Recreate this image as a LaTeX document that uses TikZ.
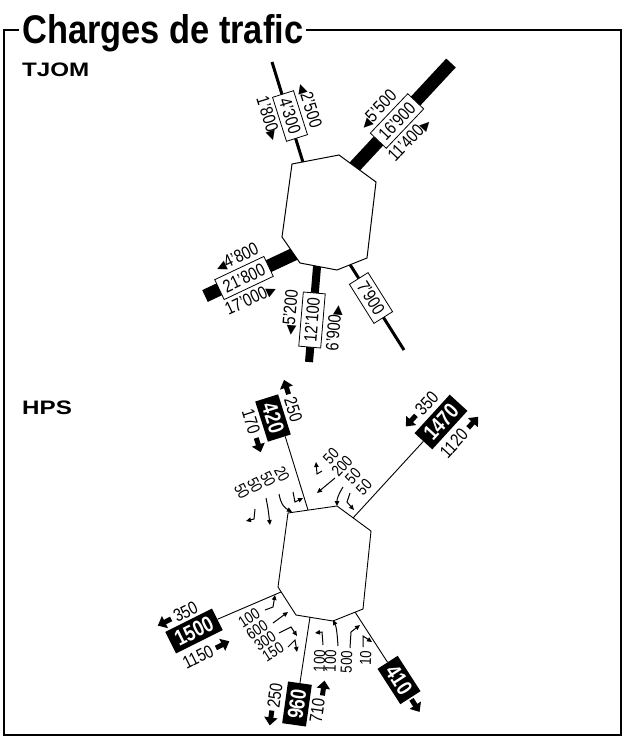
\documentclass[tikz,border=0pt]{standalone}
\usepackage{fontspec}
\setmainfont{Liberation Sans}
\newfontfamily\titlefont[FakeStretch=0.86]{Liberation Sans}
\newfontfamily\widefont[FakeStretch=1.24]{Liberation Sans}
\newfontfamily\numfont[FakeStretch=0.82]{Liberation Sans}
\newfontfamily\symfont{DejaVu Sans}
\usetikzlibrary{arrows.meta, calc}

\newcommand{\cntfont}{\numfont\fontsize{18}{18}\selectfont}
\newcommand{\boxfont}{\numfont\bfseries\fontsize{22}{22}\selectfont}
\newcommand{\lanefont}{\numfont\fontsize{16}{16}\selectfont}
\newcommand{\trileft}{{\symfont\fontsize{12.5}{12.5}\selectfont ◀}}
\newcommand{\triright}{{\symfont\fontsize{12.5}{12.5}\selectfont ▶}}

\begin{document}
\begin{tikzpicture}[
    x=1pt, y=1pt,
    frame/.style={line width=2.4pt},
    thinroad/.style={line width=3pt},
    midroad/.style={line width=8pt},
    bigroad/.style={line width=13pt},
    hpsroad/.style={line width=0.9pt},
    crossing/.style={draw, fill=white, line width=1pt},
    cntbox/.style={draw, fill=white, line width=0.8pt, inner xsep=5pt, inner ysep=0pt, minimum height=22pt, font=\cntfont},
    hpsbox/.style={fill=black, text=white, inner xsep=6pt, inner ysep=0pt, minimum height=24pt, font=\boxfont},
    cnt/.style={inner sep=0pt, font=\cntfont},
    lanecnt/.style={inner sep=0pt, font=\lanefont},
    fat/.style={line width=5pt, -{Triangle[length=8pt, width=13pt]}},
    lane/.style={line width=1pt, -{Triangle[length=5pt, width=4.5pt]}}
]
    \useasboundingbox (0,0) rectangle (628,-742);

    % Frame and title
    \draw[frame] (4,-30) rectangle (621,-735);
    \node[fill=white, inner xsep=3pt, anchor=base west, font=\titlefont\bfseries\fontsize{40}{40}\selectfont] (title) at (19,-43) {Charges de trafic};
    \node[inner sep=0pt, anchor=base west, font=\widefont\bfseries\fontsize{19.5}{19.5}\selectfont] (tjom) at (22,-76) {TJOM};
    \node[inner sep=0pt, anchor=base west, font=\widefont\bfseries\fontsize{19.5}{19.5}\selectfont] (hps) at (22,-414) {HPS};

    % TJOM: roads
    \coordinate (tNout) at (272,-62);
    \coordinate (tNin) at (306,-172);
    \coordinate (tNEout) at (451,-63);
    \coordinate (tNEin) at (345,-177);
    \coordinate (tWout) at (205,-296);
    \coordinate (tWin) at (305,-249);
    \coordinate (tSout) at (309,-362);
    \coordinate (tSin) at (318,-255);
    \coordinate (tSEout) at (404,-350);
    \coordinate (tSEin) at (344,-255);
    \draw[thinroad] (tNout) -- (tNin);
    \draw[bigroad] (tNEout) -- (tNEin);
    \draw[bigroad] (tWout) -- (tWin);
    \draw[midroad] (tSout) -- (tSin);
    \draw[thinroad] (tSEout) -- (tSEin);

    % TJOM: crossing
    \draw[crossing] (292,-164) -- (339,-155) -- (376,-182) -- (367,-258)
        -- (337,-270) -- (300,-263) -- (282,-237) -- cycle;

    % TJOM: counts
    \begin{scope}[shift={(290,-116)}, rotate=-72.4, transform shape]
        \node[cntbox] (tNbox) at (0,0) {4’300};
        \node[cnt] (tNout1) at (-4,21.5) {\trileft 2’500};
        \node[cnt] (tNin1) at (-4,-21.5) {1’800\triright};
    \end{scope}
    \begin{scope}[shift={(397,-121)}, rotate=46.4, transform shape]
        \node[cntbox] (tNEbox) at (0,0) {16’900};
        \node[cnt] (tNEin1) at (-5,21.5) {\trileft 5’500};
        \node[cnt] (tNEout1) at (-5,-22) {11’400\triright};
    \end{scope}
    \begin{scope}[shift={(244,-278)}, rotate=25.3, transform shape]
        \node[cntbox] (tWbox) at (0,0) {21’800};
        \node[cnt] (tWout1) at (2,21) {\trileft 4’800};
        \node[cnt] (tWin1) at (-3,-22) {17’000\triright};
    \end{scope}
    \begin{scope}[shift={(312,-320)}, rotate=85.2, transform shape]
        \node[cntbox] (tSbox) at (0,0) {12’100};
        \node[cnt] (tSout1) at (6,22) {\trileft 5’200};
        \node[cnt] (tSin1) at (-6,-23) {6’900\triright};
    \end{scope}
    \begin{scope}[shift={(371,-298)}, rotate=-57.9, transform shape]
        \node[cntbox] (tSEbox) at (0,0) {7’900};
    \end{scope}

    % HPS: crossing
    \draw[crossing, line width=0.9pt] (288,-513) -- (337,-506) -- (371,-531) -- (363,-609)
        -- (333,-621) -- (296,-615) -- (278,-587) -- cycle;

    % HPS: counts
    \begin{scope}[shift={(273,-418)}, rotate=-72.5, transform shape]
        \node[hpsbox] (hNbox) at (0,0) {420};
        \node[cnt] (hNout) at (-2,22) {250};
        \draw[fat] (-18,22) -- (-33,22);
        \node[cnt] (hNin) at (-3,-22) {170};
        \draw[fat] (14,-22) -- (29,-22);
    \end{scope}
    \begin{scope}[shift={(441,-422)}, rotate=47.6, transform shape]
        \node[hpsbox] (hNEbox) at (0,0) {1470};
        \node[cnt] (hNEin) at (4,23) {350};
        \draw[fat] (-12,23) -- (-27,23);
        \node[cnt] (hNEout) at (-7,-24) {1120};
        \draw[fat] (14,-24) -- (29,-24);
    \end{scope}
    \begin{scope}[shift={(194,-631)}, rotate=26.6, transform shape]
        \node[hpsbox] (hWbox) at (0,0) {1500};
        \node[cnt] (hWout) at (1,21) {350};
        \draw[fat] (-15,21) -- (-30,21);
        \node[cnt] (hWin) at (-8,-25) {1150};
        \draw[fat] (12,-25) -- (27,-25);
    \end{scope}
    \begin{scope}[shift={(297,-704)}, rotate=82, transform shape]
        \node[hpsbox] (hSbox) at (0,0) {960};
        \node[cnt] (hSout) at (5,23) {250};
        \draw[fat] (-10,24) -- (-25,24);
        \node[cnt] (hSin) at (-4,-21) {710};
        \draw[fat] (12,-24) -- (27,-24);
    \end{scope}
    \begin{scope}[shift={(399,-680)}, rotate=-57.2, transform shape]
        \node[hpsbox] (hSEbox) at (0,0) {410};
        \draw[fat] (23,0) -- (38,0);
    \end{scope}

    % HPS: roads
    \coordinate (hNin) at (308,-510);
    \coordinate (hNEin) at (353,-518);
    \coordinate (hWin) at (281,-592);
    \coordinate (hSin) at (310,-617);
    \coordinate (hSEin) at (355,-612);
    \draw[hpsroad] (hNin) -- ($(hNbox.east)!0.5!(hNbox.north east)$);
    \draw[hpsroad] (hNEin) -- (hNEbox.west);
    \draw[hpsroad] (hWin) -- (hWbox.east);
    \draw[hpsroad] (hSin) -- (hSbox.east);
    \draw[hpsroad] (hSEin) -- (hSEbox.west);

    % HPS: lanes from north
    \node[lanecnt, rotate=-62] (ln1) at (242,-491) {50};
    \node[lanecnt, rotate=-62] (ln2) at (255,-485) {50};
    \node[lanecnt, rotate=-62] (ln3) at (268,-479) {50};
    \node[lanecnt, rotate=-62] (ln4) at (282,-474) {20};
    \draw[lane] (255,-509) -- (254,-519) -- (246,-521);
    \draw[lane] (266,-498) .. controls (268,-508) .. (270,-525);
    \draw[lane] (279,-494) .. controls (281,-505) and (285,-508) .. (292,-512);
    \draw[lane] (293,-492) -- (295,-502) -- (303,-498);

    % HPS: lanes from north-east
    \node[lanecnt, rotate=47.6] (lne1) at (331,-456) {50};
    \node[lanecnt, rotate=47.6] (lne2) at (342,-466) {200};
    \node[lanecnt, rotate=47.6] (lne3) at (353,-476) {50};
    \node[lanecnt, rotate=47.6] (lne4) at (364,-487) {50};
    \draw[lane] (322,-471) -- (317,-474) -- (316,-462);
    \draw[lane] (335,-478) -- (317,-493);
    \draw[lane] (343,-487) .. controls (338,-495) and (337,-499) .. (337,-506);
    \draw[lane] (350,-493) -- (347,-502) -- (354,-510);

    % HPS: lanes from west
    \node[lanecnt, rotate=33] (lw1) at (249,-618) {100};
    \node[lanecnt, rotate=33] (lw2) at (257,-630) {600};
    \node[lanecnt, rotate=33] (lw3) at (265,-641) {300};
    \node[lanecnt, rotate=33] (lw4) at (273,-652) {150};
    \draw[lane] (265,-610) -- (273,-607) -- (275,-595);
    \draw[lane] (273,-623) -- (288,-612);
    \draw[lane] (279,-633) -- (291,-627) -- (297,-636);
    \draw[lane] (288,-647) -- (295,-640) -- (297,-652);

    % HPS: lanes from south
    \node[lanecnt, rotate=88, anchor=east] (ls1) at (320,-650) {100};
    \node[lanecnt, rotate=88, anchor=east] (ls2) at (331,-650) {100};
    \node[lanecnt, rotate=88, anchor=east] (ls3) at (347,-651) {500};
    \node[lanecnt, rotate=88, anchor=east] (ls4) at (366,-651) {10};
    \draw[lane] (323,-645) -- (322,-632) -- (315,-633);
    \draw[lane] (338,-646) .. controls (337,-630) and (336,-626) .. (333,-620);
    \draw[lane] (350,-648) -- (351,-632) -- (360,-625);
    \draw[lane] (363,-647) -- (363,-636) -- (372,-642);
\end{tikzpicture}
\end{document}
